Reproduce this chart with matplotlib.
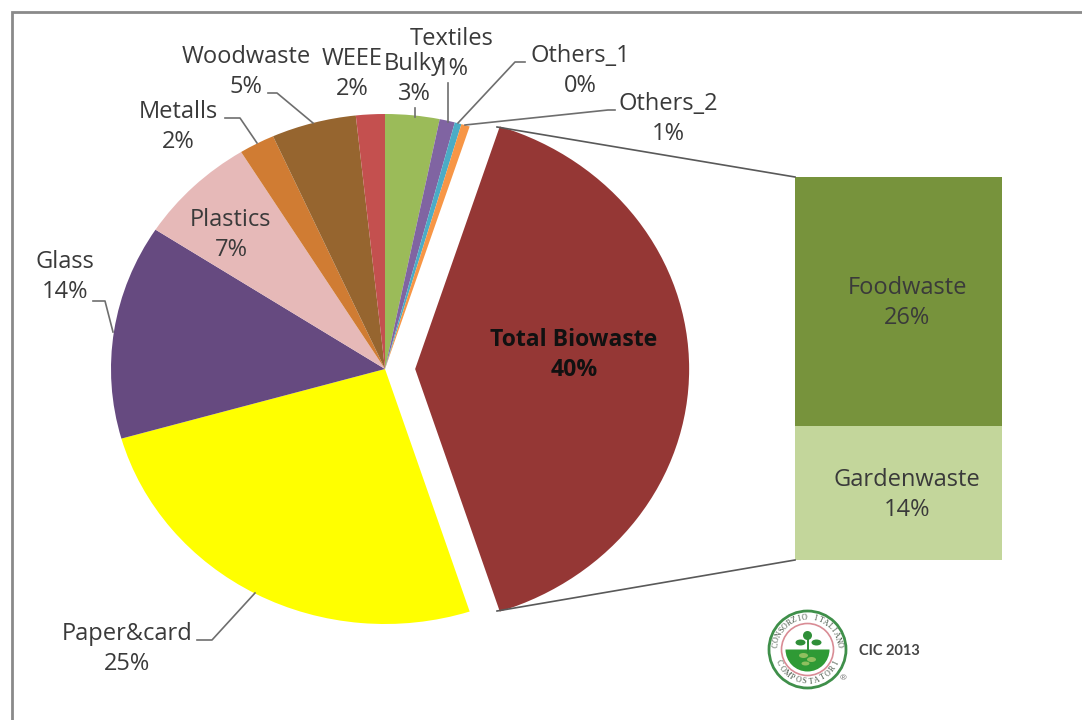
import numpy as np
import matplotlib
matplotlib.use("Agg")
import matplotlib.pyplot as plt
from matplotlib.patches import Ellipse, Wedge

W, H = 1082, 720

# ---- data ----
pie_labels = ["Total Biowaste", "Paper&card", "Glass", "Plastics", "Metalls",
              "Woodwaste", "WEEE", "Bulky", "Textiles", "Others_1", "Others_2"]
pie_values = [40.0, 25.6, 13.6, 7.0, 2.1, 5.0, 1.7, 3.2, 0.9, 0.4, 0.5]
pie_shown = ["40%", "25%", "14%", "7%", "2%", "5%", "2%", "3%", "1%", "0%", "1%"]
pie_colors = ["#953735", "#FFFF00", "#664A80", "#E6B9B8", "#D07C33", "#96652F",
              "#C4504F", "#9BBB59", "#8064A2", "#4BACC6", "#F79646"]
bar_labels = ["Gardenwaste", "Foodwaste"]
bar_values = [14, 26]
bar_shown = ["14%", "26%"]
bar_colors = ["#C3D69B", "#77933C"]

TXT = "#3a3a3a"
FONT = "Open Sans"
FS = 17
plt.rcParams["font.family"] = FONT

fig = plt.figure(figsize=(W / 100, H / 100), dpi=100, facecolor="white")


def axes_px(x0, y0, x1, y1, **kw):
    return fig.add_axes([x0 / W, 1 - y1 / H, (x1 - x0) / W, (y1 - y0) / H], **kw)


# pixel-coordinate overlay for frame, leaders, labels
ov = axes_px(0, 0, W, H)
ov.set_xlim(0, W)
ov.set_ylim(H, 0)
ov.axis("off")
ov.set_zorder(3)
ov.patch.set_alpha(0)

# frame
ov.plot([12, 12, W], [H, 12, 12], color="#8a8a8a", lw=2.0, solid_joinstyle="miter")

# pie (the picture is stretched horizontally, so aspect is free)
cx, cy, rx, ry = 385, 369, 274, 255
pa = axes_px(cx - 1.3 * rx, cy - 1.3 * ry, cx + 1.3 * rx, cy + 1.3 * ry)
explode = [0.11] + [0] * (len(pie_values) - 1)
pa.pie(pie_values, colors=pie_colors, startangle=72, counterclock=False,
       explode=explode, radius=1, normalize=True,
       wedgeprops=dict(linewidth=0))
pa.set_aspect("auto")
pa.set_xlim(-1.3, 1.3)
pa.set_ylim(-1.3, 1.3)
pa.axis("off")

# stacked bar of the pie
ba = axes_px(795, 177, 1002, 560)
bottom = 0
for lab, v, c in zip(bar_labels, bar_values, bar_colors):
    ba.bar(0, v, bottom=bottom, width=1, color=c, linewidth=0)
    bottom += v
ba.set_xlim(-0.5, 0.5)
ba.set_ylim(0, sum(bar_values))
ba.axis("off")

# connector lines
for xs, ys in [([497, 795], [127, 177]), ([497, 795], [611, 560])]:
    ov.plot(xs, ys, color="#595959", lw=1.2)

# leader lines
leaders = [
    ([197, 212, 255], [640, 640, 593]),
    ([93, 105, 113], [301, 301, 332]),
    ([225, 240, 257], [118, 118, 143]),
    ([268, 277, 313], [93, 93, 123]),
    ([415, 415], [108, 117]),
    ([448, 448], [83, 122]),
    ([525, 515, 458], [62, 62, 123]),
    ([615, 608, 465], [110, 110, 125]),
]
for xs, ys in leaders:
    ov.plot(xs, ys, color="#6e6e6e", lw=1.2)

# labels: centre position of the two-line block
pos = {
    "Total Biowaste": (574, 355), "Paper&card": (127, 649), "Glass": (65, 277),
    "Plastics": (231, 235), "Metalls": (178, 127), "Woodwaste": (246, 72),
    "WEEE": (352, 74), "Bulky": (414, 79), "Textiles": (452, 54),
    "Others_1": (580, 71), "Others_2": (668, 119),
}
LS = 1.33
for lab, shown in zip(pie_labels, pie_shown):
    x, y = pos[lab]
    bold = lab == "Total Biowaste"
    ov.text(x, y, f"{lab}\n{shown}", ha="center", va="center", color="#111111" if bold else TXT,
            fontsize=FS - 0.4 if bold else FS, fontweight="bold" if bold else "normal",
            linespacing=LS)

bar_pos = {"Foodwaste": (907, 303), "Gardenwaste": (907, 495)}
for lab, shown in zip(bar_labels, bar_shown):
    x, y = bar_pos[lab]
    ov.text(x, y, f"{lab}\n{shown}", ha="center", va="center", color=TXT,
            fontsize=FS, linespacing=LS)

# logo
lx, ly, lr = 807.5, 649.5, 38.5
ov.add_patch(Ellipse((lx, ly), 2 * lr, 2 * lr, fc="white", ec="#3f8f4a", lw=2.0))
ov.add_patch(Ellipse((lx, ly), 52, 52, fc="white", ec="#d98c95", lw=1.2))
ov.add_patch(Wedge((lx, ly), 22, 0, 180, fc="#2f9a35", ec="none"))  # y inverted: lower half
for dx, dy, w, h in [(-4, 6, 9, 5), (4, 10, 9, 5), (-2, 14, 8, 4)]:
    ov.add_patch(Ellipse((lx + dx, ly + dy), w, h, fc="#a9c96a", ec="none", alpha=0.8))
for dx, dy, w, h in [(0, -14, 9, 9), (-7, -7, 10, 6), (9, -7, 10, 6)]:
    ov.add_patch(Ellipse((lx + dx, ly + dy), w, h, fc="#2f8f38", ec="none"))
ov.plot([lx, lx], [ly - 14, ly + 2], color="#2f8f38", lw=1.4)

ring_top = "CONSORZIO ITALIANO"
ring_bot = "COMPOSTATORI"
rr = 32
for s, a0, a1, flip in [(ring_top, 172, 8, False), (ring_bot, 205, 335, True)]:
    for ch, a in zip(s, np.linspace(a0, a1, len(s))):
        t = np.deg2rad(a)
        px, py = lx + rr * np.cos(t), ly - rr * np.sin(t)
        rot = a + 90 if flip else a - 90
        ov.text(px, py, ch, fontsize=5.6, color="#3f4f3f", ha="center", va="center",
                rotation=rot, rotation_mode="anchor", family="Liberation Serif")
ov.text(843, 679, "®", fontsize=6, color="#777777", ha="center", va="center")
ov.text(889, 651, "CIC 2013", fontsize=10.5, color="#444444", ha="center", va="center",
        family="Lato", fontweight="bold")

fig.savefig("out.png", dpi=100, facecolor="white")
